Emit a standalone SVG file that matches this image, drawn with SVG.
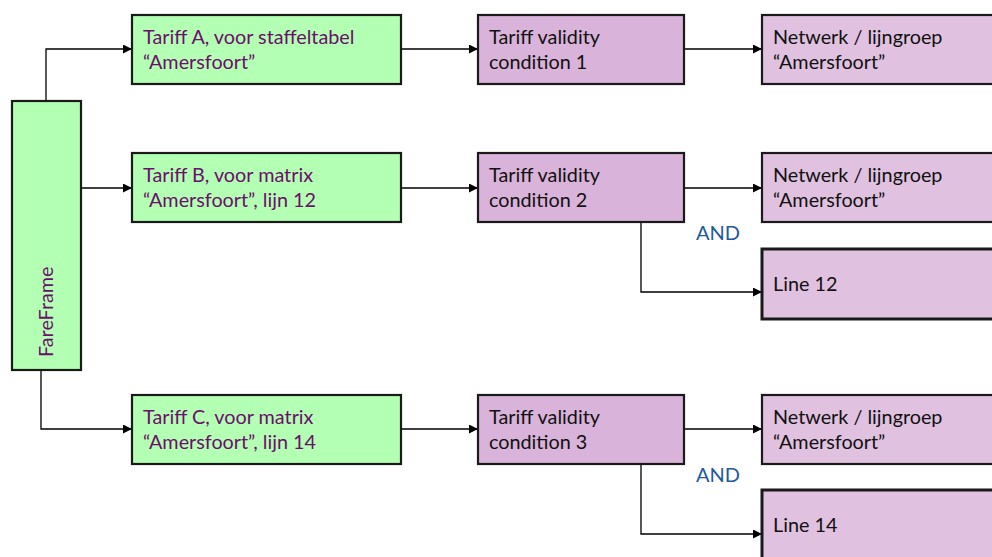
<svg xmlns="http://www.w3.org/2000/svg" width="992" height="557" viewBox="0 0 992 557">
<defs>
<marker id="arr" viewBox="0 0 10 10" refX="10" refY="5" markerWidth="9" markerHeight="9" markerUnits="userSpaceOnUse" orient="auto">
<path d="M0,0 L10,5 L0,10 z" fill="#000"/>
</marker>
<style>
.green{fill:#b3ffb3;stroke:#1a1a1a;stroke-width:2.2}
.val{fill:#d9b3d9;stroke:#1a1a1a;stroke-width:2.2}
.net{fill:#e0c1e0;stroke:#1a1a1a;stroke-width:2.2}
.line{fill:#e0c1e0;stroke:#1a1a1a;stroke-width:3}
.t{font-family:Lato,"Open Sans","Liberation Sans",sans-serif;font-size:19.8px}
.tp{fill:#6b0f6b}
.tb{fill:#111}
.and{font-family:Lato,"Open Sans","Liberation Sans",sans-serif;font-size:20px;fill:#1f5aa0}
.c{fill:none;stroke:#000;stroke-width:1.3;marker-end:url(#arr)}
</style>
</defs>
<rect width="992" height="557" fill="#fff"/>
<g id="connectors">
<path class="c" d="M46,101 V49 H132"/>
<path class="c" d="M81,188 H132"/>
<path class="c" d="M41,370 V429 H132"/>
<path class="c" d="M401,49 H478"/>
<path class="c" d="M401,188 H478"/>
<path class="c" d="M401,429 H478"/>
<path class="c" d="M684,49 H762"/>
<path class="c" d="M684,188 H762"/>
<path class="c" d="M641,222 V292 H762"/>
<path class="c" d="M684,429 H762"/>
<path class="c" d="M641,464 V534 H762"/>
</g>
<g id="fareframe">
<rect class="green" x="12" y="101" width="69" height="269"/>
<text class="t tp" transform="translate(53,357) rotate(-90)">FareFrame</text>
</g>
<g id="tariffA">
<rect class="green" x="132" y="15" width="269" height="69"/>
<text class="t tp" x="143" y="44">Tariff A, voor staffeltabel</text>
<text class="t tp" x="143" y="69">“Amersfoort”</text>
</g>
<g id="tariffB">
<rect class="green" x="132" y="153" width="269" height="69"/>
<text class="t tp" x="143" y="182">Tariff B, voor matrix</text>
<text class="t tp" x="143" y="207">“Amersfoort”, lijn 12</text>
</g>
<g id="tariffC">
<rect class="green" x="132" y="395" width="269" height="69"/>
<text class="t tp" x="143" y="424">Tariff C, voor matrix</text>
<text class="t tp" x="143" y="449">“Amersfoort”, lijn 14</text>
</g>
<g id="validity1">
<rect class="val" x="478" y="15" width="206" height="69"/>
<text class="t tb" x="489" y="44">Tariff validity</text>
<text class="t tb" x="489" y="69">condition 1</text>
</g>
<g id="validity2">
<rect class="val" x="478" y="153" width="206" height="69"/>
<text class="t tb" x="489" y="182">Tariff validity</text>
<text class="t tb" x="489" y="207">condition 2</text>
</g>
<g id="validity3">
<rect class="val" x="478" y="395" width="206" height="69"/>
<text class="t tb" x="489" y="424">Tariff validity</text>
<text class="t tb" x="489" y="449">condition 3</text>
</g>
<g id="netwerk1">
<rect class="net" x="762" y="15" width="240" height="69"/>
<text class="t tb" x="773" y="44">Netwerk / lijngroep</text>
<text class="t tb" x="773" y="69">“Amersfoort”</text>
</g>
<g id="netwerk2">
<rect class="net" x="762" y="153" width="240" height="69"/>
<text class="t tb" x="773" y="182">Netwerk / lijngroep</text>
<text class="t tb" x="773" y="207">“Amersfoort”</text>
</g>
<g id="line12">
<rect class="line" x="762" y="249" width="240" height="70"/>
<text class="t tb" x="773" y="291">Line 12</text>
</g>
<g id="netwerk3">
<rect class="net" x="762" y="395" width="240" height="69"/>
<text class="t tb" x="773" y="424">Netwerk / lijngroep</text>
<text class="t tb" x="773" y="449">“Amersfoort”</text>
</g>
<g id="line14">
<rect class="line" x="762" y="490" width="240" height="80"/>
<text class="t tb" x="773" y="532">Line 14</text>
</g>
<g id="labels">
<text class="and" x="696" y="240">AND</text>
<text class="and" x="696" y="482">AND</text>
</g>
</svg>
